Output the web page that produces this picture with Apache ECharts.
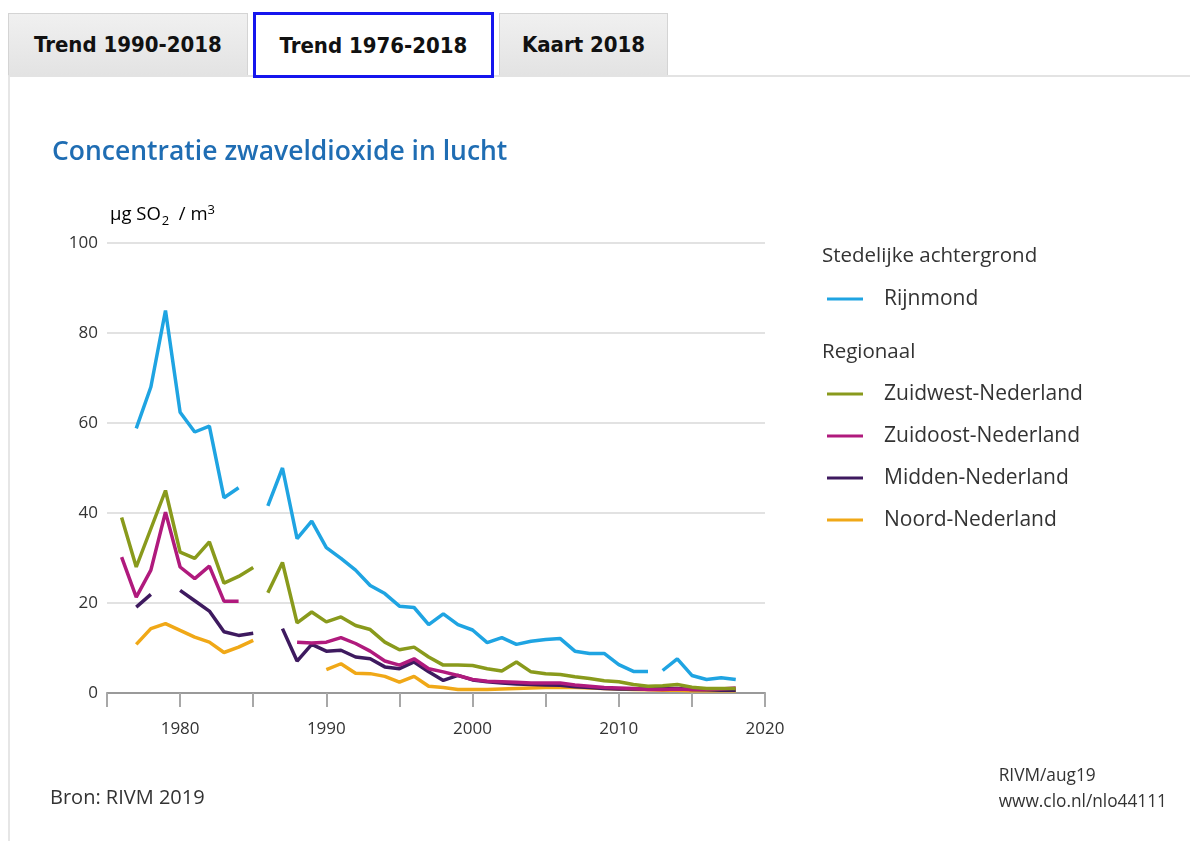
<!DOCTYPE html>
<html>
<head>
<meta charset="utf-8">
<title>Concentratie zwaveldioxide in lucht</title>
<script src="https://cdn.jsdelivr.net/npm/echarts@6/dist/echarts.min.js"></script>
<style>
  html, body { margin: 0; padding: 0; background: #fff; }
  body { width: 1190px; height: 841px; position: relative; overflow: hidden; }
  .tab {
    position: absolute; top: 13px; height: 62px; box-sizing: border-box;
    background: linear-gradient(#f0f0f0, #e3e3e3);
    border: 1px solid #d4d4d4; border-bottom: none;
    display: flex; align-items: center; justify-content: center;
    font-family: "DejaVu Sans Condensed", "DejaVu Sans", sans-serif;
    font-stretch: condensed; font-weight: bold; font-size: 22px; color: #111;
  }
  .tab.active { top: 12px; height: 66px; background: #fff; border: 3px solid #1616ee; z-index: 2; }
  .panel {
    position: absolute; left: 8px; top: 75px; right: 0; bottom: 0;
    border-top: 2px solid #e3e3e3; border-left: 2px solid #e6e6e6;
  }
  #chart { position: absolute; left: 0; top: 80px; width: 1190px; height: 761px; }
</style>
</head>
<body>
<div class="panel"></div>
<div class="tab" style="left:8px;width:240px">Trend 1990-2018</div>
<div class="tab active" style="left:253px;width:241px">Trend 1976-2018</div>
<div class="tab" style="left:499px;width:169px">Kaart 2018</div>
<div id="chart"></div>
<script>
// each segment: [first year, yearly values]; gaps between segments are breaks in the line
const rijnmond = [
  [1977, [58.8, 68, 85, 62.4, 58, 59.3, 43.4, 45.6]],
  [1986, [41.6, 50, 34.3, 38.2, 32.3, 29.9, 27.3, 23.9, 22.1, 19.3, 19, 15.2, 17.6, 15.2,
          14, 11.2, 12.3, 10.8, 11.5, 11.9, 12.1, 9.3, 8.8, 8.8, 6.3, 4.8, 4.8]],
  [2013, [5, 7.6, 3.9, 3.0, 3.4, 3.0]]
];
const zuidwest = [
  [1976, [39, 28, 36.5, 45, 31.3, 29.9, 33.6, 24.4, 25.9, 27.9]],
  [1986, [22.3, 29, 15.6, 18, 15.8, 16.9, 15, 14.1, 11.3, 9.6, 10.2, 8, 6.2, 6.2,
          6.1, 5.4, 4.9, 6.9, 4.7, 4.3, 4.1, 3.6, 3.2, 2.7, 2.5, 1.9, 1.5, 1.6, 1.9, 1.3, 1.0, 1.0, 1.0]]
];
const zuidoost = [
  [1976, [30.2, 21.3, 27.3, 40.2, 28, 25.4, 28.2, 20.4, 20.4]],
  [1988, [11.3, 11.1, 11.3, 12.3, 11, 9.3, 7.1, 6.2, 7.6, 5.4, 4.7, 3.9,
          3.0, 2.6, 2.5, 2.4, 2.2, 2.2, 2.2, 1.8, 1.5, 1.2, 1.1, 1.0, 0.8, 0.8, 0.9, 0.8, 0.8, 0.9, 1.1]]
];
const midden = [
  [1977, [19.1, 21.9]],
  [1980, [22.8, 20.5, 18.2, 13.6, 12.8, 13.3]],
  [1987, [14.3, 7.1, 10.8, 9.3, 9.5, 8, 7.6, 5.8, 5.4, 6.9, 4.7, 2.8, 3.9,
          2.9, 2.5, 2.2, 2.0, 1.9, 1.8, 1.7, 1.4, 1.2, 1.0, 0.9, 0.9, 0.9, 1.0, 1.0, 0.8, 0.7, 0.6, 0.6]]
];
const noord = [
  [1977, [10.8, 14.3, 15.4, 13.9, 12.4, 11.3, 9.0, 10.2, 11.7]],
  [1990, [5.2, 6.5, 4.4, 4.3, 3.7, 2.4, 3.7, 1.5, 1.2, 0.8,
          0.8, 0.8, 0.9, 1.0, 1.1, 1.2, 1.2, 1.2, 1.1, 1.0, 0.9, 0.8, 0.7, 0.6, 0.6, 0.5, 0.5, 0.5, 0.5]]
];

const regions = [
  { name: 'Noord-Nederland', color: '#f0a817', segs: noord },
  { name: 'Midden-Nederland', color: '#3e1a5f', segs: midden },
  { name: 'Zuidoost-Nederland', color: '#b01a7d', segs: zuidoost },
  { name: 'Zuidwest-Nederland', color: '#899a1c', segs: zuidwest },
  { name: 'Rijnmond', color: '#1fa4e2', segs: rijnmond }
];

const FONT = '"Open Sans", "Noto Sans", sans-serif';
const TXT = '#333';

const series = [];
regions.forEach(r => {
  r.segs.forEach(([start, vals]) => {
    series.push({
      name: r.name, type: 'line', showSymbol: false, symbol: 'none',
      color: r.color, lineStyle: { width: 3.5, color: r.color },
      data: vals.map((v, i) => [start + i, v]),
      animation: false
    });
  });
});

const legendBase = {
  orient: 'vertical', left: 822, icon: 'rect', itemWidth: 36, itemHeight: 3,
  textStyle: { fontFamily: FONT, fontSize: 21, color: TXT, lineHeight: 22, padding: [0, 0, 0, 16] },
  selectedMode: false
};

const chart = echarts.init(document.getElementById('chart'), null, { renderer: 'canvas' });
chart.setOption({
  animation: false,
  title: {
    text: 'Concentratie zwaveldioxide in lucht', left: 47, top: 54,
    textStyle: { fontFamily: FONT, fontSize: 26.5, fontWeight: 600, color: '#1f6db3' }
  },
  grid: { left: 107, right: 425, top: 163, bottom: 148 },
  xAxis: {
    type: 'value', min: 1975, max: 2020, interval: 5,
    axisLine: { lineStyle: { color: '#9a9a9a', width: 2 } },
    axisTick: { length: 14, lineStyle: { color: '#a8a8a8', width: 2 } },
    splitLine: { show: false },
    axisLabel: {
      margin: 28, fontFamily: FONT, fontSize: 17, color: TXT,
      formatter: v => (v % 10 === 0 ? String(v) : '')
    }
  },
  yAxis: {
    type: 'value', min: 0, max: 100, interval: 20,
    axisLine: { show: false }, axisTick: { show: false },
    splitLine: { lineStyle: { color: '#e2e2e2', width: 2 } },
    axisLabel: { margin: 9, fontFamily: FONT, fontSize: 17, color: TXT }
  },
  legend: [
    Object.assign({ top: 203, data: ['Rijnmond'] }, legendBase),
    Object.assign({ top: 298, itemGap: 20,
      data: ['Zuidwest-Nederland', 'Zuidoost-Nederland', 'Midden-Nederland', 'Noord-Nederland'] }, legendBase)
  ],
  graphic: [
    { type: 'text', left: 110, top: 124, style: {
        text: '{a|µg SO}{s|2}{a|  / m}{p|3}',
        rich: {
          a: { fontFamily: FONT, fontSize: 18.5, color: TXT, lineHeight: 24 },
          s: { fontFamily: FONT, fontSize: 13, color: TXT, padding: [13, 0, 0, 1] },
          p: { fontFamily: FONT, fontSize: 13, color: TXT, padding: [0, 0, 8, 0] }
        } } },
    { type: 'text', left: 822, top: 166, style: {
        text: 'Stedelijke achtergrond', font: '20.5px ' + FONT, fill: TXT } },
    { type: 'text', left: 822, top: 262, style: {
        text: 'Regionaal', font: '20.5px ' + FONT, fill: TXT } },
    { type: 'text', left: 50, top: 708, style: {
        text: 'Bron: RIVM 2019', font: '20px ' + FONT, fill: TXT } },
    { type: 'text', right: 23, top: 683, style: {
        text: 'RIVM/aug19\nwww.clo.nl/nlo44111', font: '17.3px ' + FONT, fill: TXT,
        align: 'right', lineHeight: 26 } }
  ],
  series: series
});
</script>
</body>
</html>
